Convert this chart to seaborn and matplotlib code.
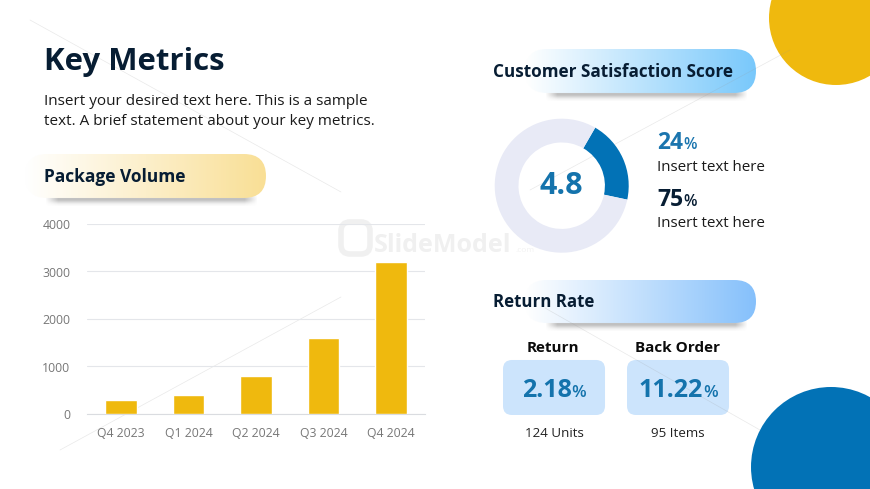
import matplotlib
matplotlib.use('Agg')
import matplotlib.pyplot as plt
import seaborn as sns
import numpy as np
import pandas as pd
from matplotlib.patches import Circle, FancyBboxPatch

# Data
quarters = ['Q4 2023', 'Q1 2024', 'Q2 2024', 'Q3 2024', 'Q4 2024']
volume = [300, 400, 800, 1600, 3200]
y_ticks = [0, 1000, 2000, 3000, 4000]
donut_parts = [20, 80]
score = '4.8'
stat_values = ['24', '75']
card_titles = ['Return', 'Back Order']
card_values = ['2.18', '11.22']
card_notes = ['124 Units', '95 Items']

# Colors
NAVY = '#071D33'
YELLOW = '#EFB90E'
BLUE = '#0272B6'
W, H = 870, 489

sns.set_theme(style='white')
plt.rcParams['font.family'] = ['Open Sans', 'DejaVu Sans']

fig = plt.figure(figsize=((W + 0.01) / 100, (H + 0.01) / 100), dpi=100, facecolor='white')

# Full slide layer in pixel coordinates
bg = fig.add_axes([0, 0, 1, 1], zorder=0)
bg.set_xlim(0, W)
bg.set_ylim(H, 0)
bg.axis('off')


def pill(x0, x1, y0, y1, color, fade_end):
    # drop shadow under the pill
    sx = np.linspace(0, 1, 200)
    sy = np.linspace(0, 1, 30)
    alpha = np.outer(np.exp(-((sy - 0.3) / 0.4) ** 2),
                     np.clip(sx / 0.06, 0, 1) * np.clip((1 - sx) / 0.06, 0, 1))
    rgba = np.zeros((30, 200, 4))
    rgba[..., :3] = 0.5
    rgba[..., 3] = alpha * 0.5
    bg.imshow(rgba, extent=[x0 + 20, x1 - 9, y1 + 8, y1 - 1], aspect='auto', zorder=1)

    # gradient fill, clipped to the rounded shape
    c = np.array(matplotlib.colors.to_rgb(color))
    t = np.clip((np.linspace(x0, x1, 300) - x0) / (fade_end - x0), 0, 1)
    img = np.ones((2, 300, 3))
    img[:, :, :] = 1 - t[:, None] * (1 - c)
    im = bg.imshow(img, extent=[x0, x1, y1, y0], aspect='auto', zorder=2)
    r = (y1 - y0) / 2
    shape = FancyBboxPatch((x0 + r, y0 + r), x1 - x0 - 2 * r, y1 - y0 - 2 * r,
                           boxstyle=f'round,pad={r * 0.999},rounding_size={r}',
                           fc='none', ec='none')
    bg.add_patch(shape)
    im.set_clip_path(shape)


# Corner circles
bg.add_patch(Circle((836, 18), 67, fc=YELLOW, ec='none', zorder=1))
bg.add_patch(Circle((831, 467), 80, fc=BLUE, ec='none', zorder=1))

# Watermark
bg.add_patch(FancyBboxPatch((343, 224), 25, 28, boxstyle='round,pad=2,rounding_size=9',
                            fc='none', ec='#F0F0F0', lw=4, zorder=1.5))
bg.text(374, 252, 'SlideModel', fontsize=18, fontweight='bold', color='#F0F0F0', zorder=1.5)
bg.text(515, 252, '.com', fontsize=6, color='#F2F2F2', zorder=1.5)

pill(25, 266, 154, 198, '#F9DF95', 266)
pill(525, 756, 49, 93, '#78C8FB', 756)
pill(525, 756, 280, 323, '#85C0FB', 756)

# Faint template lines
for xs, ys in [((30, 341), (20, 192)), ((60, 341), (450, 297)), ((530, 790), (190, 50)),
               ((545, 760), (308, 430))]:
    bg.plot(xs, ys, color='#999999', alpha=0.22, lw=0.5, zorder=3)

# Headline
bg.text(44, 70, 'Key Metrics', fontsize=22.4, fontweight='bold', color=NAVY, zorder=5)
bg.text(44, 105, 'Insert your desired text here. This is a sample', fontsize=11, color='#1A1A1A', zorder=5)
bg.text(44, 125, 'text. A brief statement about your key metrics.', fontsize=11, color='#1A1A1A', zorder=5)

# Pill titles
bg.text(44, 182, 'Package Volume', fontsize=12.5, fontweight='bold', color=NAVY, zorder=5)
bg.text(493, 77, 'Customer Satisfaction Score', fontsize=12.3, fontweight='bold', color=NAVY, zorder=5)
bg.text(493, 307, 'Return Rate', fontsize=12.2, fontweight='bold', color=NAVY, zorder=5)


def percent_text(x, y, value, color, size, ha='left'):
    big = bg.text(x, y, value, fontsize=size, fontweight='bold', color=color, zorder=5)
    small = bg.text(x, y, '%', fontsize=size * 0.68, fontweight='semibold', color=color, zorder=5)
    fig.canvas.draw()
    inv = bg.transData.inverted()
    b = big.get_window_extent()
    s = small.get_window_extent()
    bw = inv.transform((b.x1, 0))[0] - inv.transform((b.x0, 0))[0]
    sw = inv.transform((s.x1, 0))[0] - inv.transform((s.x0, 0))[0]
    if ha == 'center':
        x = x - (bw + sw) / 2
    big.set_x(x)
    small.set_x(x + bw)


# Donut stats
percent_text(657, 149, stat_values[0], '#1B75AE', 16.5)
bg.text(657, 171, 'Insert text here', fontsize=10.9, color='#1A1A1A', zorder=5)
percent_text(657, 206, stat_values[1], NAVY, 16.5)
bg.text(657, 227, 'Insert text here', fontsize=10.9, color='#1A1A1A', zorder=5)

# Return rate cards
for x0, title, val, note in zip([503, 627], card_titles, card_values, card_notes):
    cx = x0 + 51
    bg.add_patch(FancyBboxPatch((x0 + 9, 369), 84, 37, boxstyle='round,pad=9,rounding_size=9',
                                fc='#CCE4FC', ec='none', zorder=2))
    bg.text(cx - 1, 352, title, fontsize=11, fontweight='bold', color='#0B0B0B', ha='center', zorder=5)
    percent_text(cx, 397, val, '#1473AC', 18, ha='center')
    bg.text(cx, 437, note, fontsize=9.6, color='#222222', ha='center', zorder=5)

# Bar chart
df = pd.DataFrame({'quarter': quarters, 'volume': volume})
ax = fig.add_axes([87 / W, 1 - 414 / H, 338 / W, 190 / H], zorder=3)
ax.patch.set_alpha(0)
sns.barplot(data=df, x='quarter', y='volume', color=YELLOW, saturation=1, width=0.47, ax=ax, zorder=3)
ax.set_ylim(0, 4000)
ax.set_yticks(y_ticks)
ax.set_xlabel('')
ax.set_ylabel('')
ax.grid(axis='y', color='#E4E6EA', lw=0.8, zorder=0)
ax.set_axisbelow(True)
sns.despine(ax=ax, left=True, top=True, right=True)
ax.spines['bottom'].set_color('#DADCE0')
ax.spines['bottom'].set_linewidth(0.8)
ax.tick_params(axis='both', length=0, labelsize=8.8, labelcolor='#777777')
ax.tick_params(axis='x', pad=9)
ax.tick_params(axis='y', pad=12)

# Donut
dax = fig.add_axes([(561.7 - 67) / W, 1 - (185.7 + 67) / H, 134 / W, 134 / H], zorder=3)
dax.pie(donut_parts, colors=[BLUE, '#E8EAF6'], startangle=60, counterclock=False, radius=1,
        wedgeprops={'width': 0.355, 'linewidth': 0})
dax.set_xlim(-1, 1)
dax.set_ylim(-1, 1)
bg.text(561, 194, score, fontsize=22, fontweight='bold', color='#1473AC', ha='center', zorder=5)

fig.savefig('out.png', dpi=100)
